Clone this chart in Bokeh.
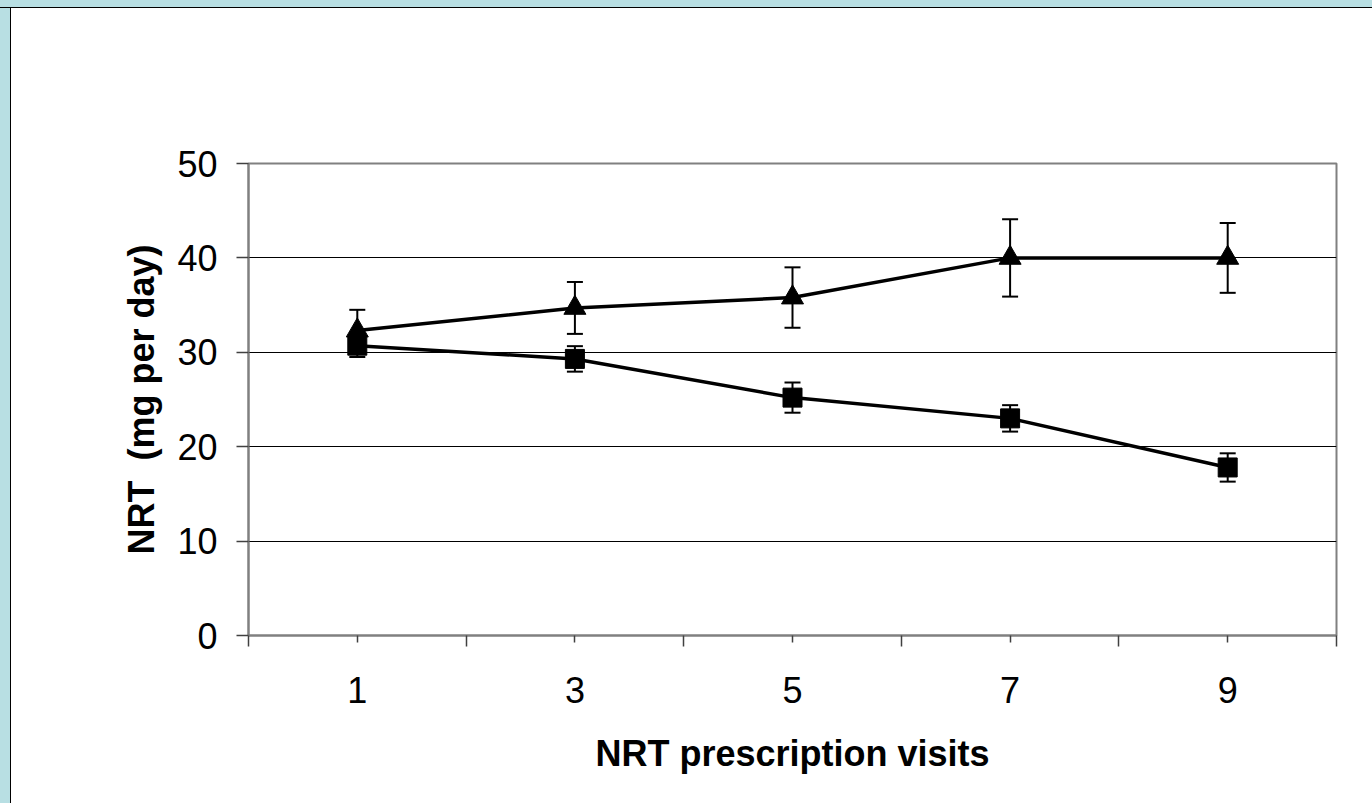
from bokeh.plotting import figure
from bokeh.models import Range1d, FixedTicker, Whisker, TeeHead, ColumnDataSource, Div
from bokeh.layouts import column, row
from bokeh.embed import file_html
from bokeh.resources import INLINE

# ---- data ----
visits = [1, 3, 5, 7, 9]
tick_labels = ["1", "3", "5", "7", "9"]
triangle_mean = [32.3, 34.7, 35.8, 40.0, 40.0]
triangle_err = [2.2, 2.75, 3.2, 4.1, 3.7]
square_mean = [30.7, 29.3, 25.2, 23.0, 17.8]
square_err = [1.2, 1.35, 1.6, 1.4, 1.5]
y_ticks = [0, 10, 20, 30, 40, 50]

FONT = "Liberation Sans"
BLUE = "#B8DFE3"

p = figure(width=1361, height=795, output_backend="svg", toolbar_location=None,
           x_range=Range1d(0, 10), y_range=Range1d(0, 50),
           min_border_left=237, min_border_right=36, min_border_top=155,
           min_border_bottom=168)
p.margin = 0
p.border_fill_color = "white"
p.background_fill_color = "white"
p.outline_line_color = "#808080"
p.outline_line_width = 2

# axes
p.xaxis.ticker = FixedTicker(ticks=visits, minor_ticks=[0, 2, 4, 6, 8, 10])
p.xaxis.major_label_overrides = {v: t for v, t in zip(visits, tick_labels)}
p.yaxis.ticker = FixedTicker(ticks=y_ticks, minor_ticks=[])

for ax in (p.xaxis[0], p.yaxis[0]):
    ax.axis_line_color = "#808080"
    ax.axis_line_width = 2
    ax.major_tick_line_color = "#404040"
    ax.minor_tick_line_color = "#404040"
    ax.major_tick_line_width = 1.5
    ax.minor_tick_line_width = 1.5
    ax.major_tick_in = 0
    ax.minor_tick_in = 0
    ax.major_label_text_font = FONT
    ax.major_label_text_font_size = "36px"
    ax.major_label_text_color = "black"
    ax.axis_label_text_font = FONT
    ax.axis_label_text_font_size = "36px"
    ax.axis_label_text_font_style = "bold"
    ax.axis_label_text_color = "black"

p.xaxis.major_tick_out = 7
p.xaxis.minor_tick_out = 11
p.xaxis.major_label_standoff = 30
p.xaxis.axis_label = "NRT prescription visits"
p.xaxis.axis_label_standoff = 27

p.yaxis.major_tick_out = 12
p.yaxis.minor_tick_out = 0
p.yaxis.major_label_standoff = 19
p.yaxis.axis_label = "NRT\u00a0\u00a0(mg per day)"
p.yaxis.axis_label_standoff = 12

p.xgrid.grid_line_color = None
p.ygrid.ticker = FixedTicker(ticks=[10, 20, 30, 40])
p.ygrid.grid_line_color = "black"
p.ygrid.grid_line_width = 1

# error bars
tri = ColumnDataSource(dict(x=visits, y=triangle_mean,
                            lo=[m - e for m, e in zip(triangle_mean, triangle_err)],
                            hi=[m + e for m, e in zip(triangle_mean, triangle_err)]))
sq = ColumnDataSource(dict(x=visits, y=square_mean,
                           lo=[m - e for m, e in zip(square_mean, square_err)],
                           hi=[m + e for m, e in zip(square_mean, square_err)]))
for src in (tri, sq):
    w = Whisker(source=src, base="x", lower="lo", upper="hi", dimension="height",
                line_color="black", line_width=2, level="glyph",
                upper_head=TeeHead(size=16, line_color="black", line_width=2),
                lower_head=TeeHead(size=16, line_color="black", line_width=2))
    p.add_layout(w)

p.line("x", "y", source=tri, line_color="black", line_width=3.5)
p.line("x", "y", source=sq, line_color="black", line_width=3.5)
p.scatter("x", "y", source=tri, marker="triangle", size=22, fill_color="black", line_color="black")
p.scatter("x", "y", source=sq, marker="square", size=19, fill_color="black", line_color="black")

# light-blue page frame with thin black edge
top_strip = Div(text="", width=1372, height=8, margin=0,
                styles={"background-color": BLUE, "box-shadow": "inset 0 -1px 0 black",
                        "padding": "0", "margin": "0"})
left_strip = Div(text="", width=11, height=795, margin=0,
                 styles={"background-color": BLUE, "box-shadow": "inset -1px 0 0 black",
                         "padding": "0", "margin": "0"})
inner = row(left_strip, p, spacing=0, margin=0)
layout = column(top_strip, inner, spacing=0, margin=0)

open("out.html", "w").write(file_html(layout, INLINE))
